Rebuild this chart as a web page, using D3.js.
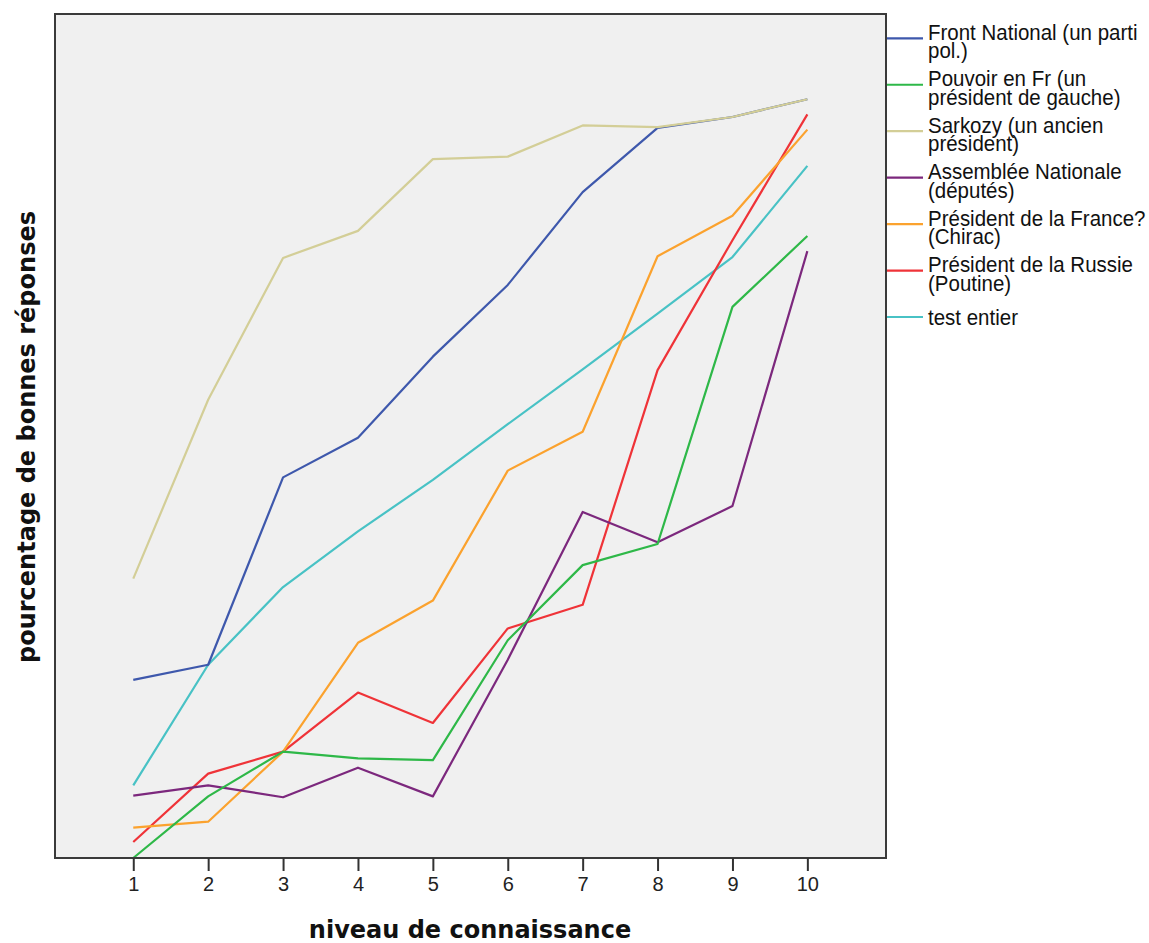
<!DOCTYPE html>
<html>
<head>
<meta charset="utf-8">
<script src="https://cdn.jsdelivr.net/npm/d3@7"></script>
<style>
  body { margin: 0; background: #fff; }
  svg { display: block; }
</style>
</head>
<body>
<svg id="chart" width="1149" height="943"></svg>
<script>
// knowledge levels on the x axis
const levels = [1, 2, 3, 4, 5, 6, 7, 8, 9, 10];

// series names, as in the legend (two lines each)
const seriesNames = [
  ["Front National (un parti", "pol.)"],
  ["Pouvoir en Fr (un", "président de gauche)"],
  ["Sarkozy (un ancien", "président)"],
  ["Assemblée Nationale", "(députés)"],
  ["Président de la France?", "(Chirac)"],
  ["Président de la Russie", "(Poutine)"],
  ["test entier"]
];

// percentage of right answers
const frontNational = [21.1, 22.9, 45.1, 49.8, 59.4, 67.9, 78.9, 86.5, 87.8, 89.9];
const pouvoirFr     = [0.0, 7.3, 12.6, 11.8, 11.6, 25.8, 34.7, 37.2, 65.3, 73.7];
const sarkozy       = [33.1, 54.3, 71.1, 74.3, 82.8, 83.1, 86.8, 86.6, 87.8, 89.9];
const assemblee     = [7.4, 8.6, 7.2, 10.7, 7.3, 23.5, 41.0, 37.4, 41.7, 71.9];
const chirac        = [3.6, 4.3, 12.6, 25.5, 30.5, 45.9, 50.5, 71.3, 76.1, 86.3];
const poutine       = [1.9, 10.0, 12.6, 19.6, 16.0, 27.2, 30.0, 57.8, 73.2, 88.1];
const testEntier    = [8.6, 22.9, 32.1, 38.7, 44.8, 51.4, 57.9, 64.5, 71.2, 82.0];

const seriesValues = [frontNational, pouvoirFr, sarkozy, assemblee, chirac, poutine, testEntier];
const colors = ["#3E58AC", "#2EB848", "#D3CE97", "#7C287D", "#FBA22E", "#EF3338", "#48C2C5"];

const svg = d3.select("#chart");

// plot frame
const plotLeft = 55, plotRight = 886, plotTop = 14, plotBottom = 858;

const x = d3.scaleLinear().domain([-0.045, 11.05]).range([plotLeft, plotRight]);
const y = d3.scaleLinear().domain([0, 100]).range([plotBottom, plotTop]);

svg.append("rect")
  .attr("x", plotLeft).attr("y", plotTop)
  .attr("width", plotRight - plotLeft).attr("height", plotBottom - plotTop)
  .attr("fill", "#F0F0F0");

svg.append("clipPath").attr("id", "clipTop")
  .append("rect").attr("x", x(8)).attr("y", plotTop)
  .attr("width", plotRight - x(8)).attr("height", 40);

// lines
const line = d3.line()
  .x((d, i) => x(levels[i]))
  .y(d => y(d));

const lines = svg.append("g");
// draw order so the overlaps look like the reference
[6, 5, 4, 3, 1, 0, 2].forEach(k => {
  lines.append("path")
    .datum(seriesValues[k])
    .attr("d", line)
    .attr("fill", "none")
    .attr("stroke", colors[k])
    .attr("stroke-width", 2.2)
    .attr("stroke-linejoin", "round");
});
// blue shows through sarkozy where the two coincide
lines.append("path")
  .datum(frontNational)
  .attr("d", line)
  .attr("fill", "none")
  .attr("stroke", colors[0])
  .attr("stroke-width", 2.2)
  .attr("stroke-dasharray", "3,4")
  .attr("opacity", 0.5)
  .attr("clip-path", "url(#clipTop)");

// frame
svg.append("rect")
  .attr("x", plotLeft).attr("y", plotTop)
  .attr("width", plotRight - plotLeft).attr("height", plotBottom - plotTop)
  .attr("fill", "none")
  .attr("stroke", "#3a3a3a")
  .attr("stroke-width", 2);

// x axis
const xAxis = d3.axisBottom(x)
  .tickValues(levels)
  .tickSize(13)
  .tickPadding(6)
  .tickFormat(d3.format("d"));

const gx = svg.append("g")
  .attr("transform", `translate(0,${plotBottom})`)
  .call(xAxis);
gx.select(".domain").remove();
gx.selectAll("line").attr("stroke", "#333").attr("stroke-width", 2);
gx.selectAll("text")
  .style("font-size", "20px")
  .style("font-family", "Arial, 'Liberation Sans', sans-serif")
  .attr("fill", "#222");

// axis titles
svg.append("text")
  .attr("x", 470).attr("y", 938)
  .attr("text-anchor", "middle")
  .style("font-size", "24px")
  .style("font-weight", "bold")
  .style("font-family", "'DejaVu Sans', sans-serif")
  .attr("fill", "#111")
  .text("niveau de connaissance");

svg.append("text")
  .attr("transform", "translate(35,437) rotate(-90)")
  .attr("text-anchor", "middle")
  .style("font-size", "24px")
  .style("font-weight", "bold")
  .style("font-family", "'DejaVu Sans', sans-serif")
  .attr("fill", "#111")
  .text("pourcentage de bonnes réponses");

// legend
const legend = svg.append("g");
seriesNames.forEach((name, i) => {
  const cy = 38.3 + i * 46.45;
  legend.append("line")
    .attr("x1", 887).attr("x2", 923)
    .attr("y1", cy).attr("y2", cy)
    .attr("stroke", colors[i])
    .attr("stroke-width", 2.2);
  const baselines = name.length === 2 ? [cy + 1.5, cy + 20] : [cy + 8];
  name.forEach((txt, j) => {
    legend.append("text")
      .attr("transform", `translate(928,${baselines[j]}) scale(1,1.12)`)
      .style("font-size", "20.5px")
      .style("font-family", "Arial, 'Liberation Sans', sans-serif")
      .attr("fill", "#111")
      .text(txt);
  });
});
</script>
</body>
</html>
